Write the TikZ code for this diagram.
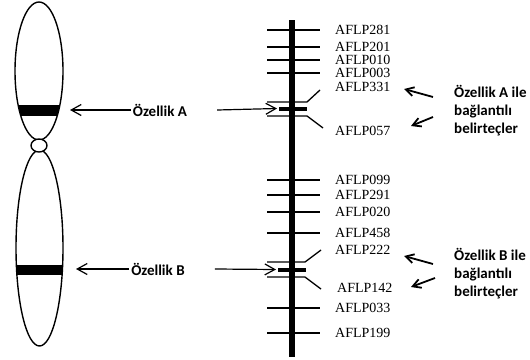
\documentclass[tikz,border=0pt]{standalone}
\usepackage{fontspec}
\setmainfont{Liberation Serif}
\newfontfamily\calibri{Carlito}
\usetikzlibrary{arrows.meta, positioning, calc}

\tikzstyle{marker} = [line width=1.3pt]
\tikzstyle{aflp} = [anchor=west, inner sep=0pt, font=\fontsize{14}{14}\selectfont]
\tikzstyle{feature} = [inner sep=2pt, font=\calibri\bfseries\fontsize{15}{18}\selectfont]
\tikzstyle{pointer} = [-{Straight Barb[length=10pt,width=11pt]}, line width=1.2pt]
\tikzstyle{notearrow} = [-{Straight Barb[length=8pt,width=9pt]}, line width=1.8pt]

\begin{document}
\begin{tikzpicture}[x=1pt, y=-1pt]
    \useasboundingbox (0,0) rectangle (530,359);

    % Chromosome: two arms and the centromere
    \draw[line width=1.4pt] (39,71) ellipse [x radius=24, y radius=69];
    \draw[line width=1.4pt] (39.5,248) ellipse [x radius=23.5, y radius=98];
    \begin{scope}
        \clip (39,71) ellipse [x radius=24, y radius=69];
        \fill (0,105) rectangle (80,116);
    \end{scope}
    \begin{scope}
        \clip (39.5,248) ellipse [x radius=23.5, y radius=98];
        \fill (0,265) rectangle (80,275);
    \end{scope}
    \draw[line width=1.4pt, fill=white] (39,145.5) ellipse [x radius=8, y radius=6.5];

    % Linkage map
    \coordinate (maptop) at (292,20);
    \coordinate (mapbottom) at (292,357);
    \draw[line width=6pt] (maptop) -- (mapbottom);

    \foreach \name/\y in {281/30, 201/47, 010/60, 003/73, 099/180, 291/195, 020/212, 458/233, 033/308, 199/333} {
        \draw[marker] (267,\y) -- (320,\y);
        \node[aflp] (m\name) at (335,\y) {AFLP\name};
    }

    % Markers flanking trait A
    \draw[marker] (267,102) -- (307,102) -- (320,90);
    \draw[marker] (267,116) -- (307,116) -- (323,128);
    \draw[line width=4pt] (279,108.5) -- (307,108.5);
    \node[aflp] (m331) at (335,87) {AFLP331};
    \node[aflp] (m057) at (335,131) {AFLP057};

    % Markers flanking trait B
    \draw[marker] (267,262) -- (305,262) -- (321,250);
    \draw[marker] (267,277) -- (305,277) -- (321,289);
    \draw[line width=4pt] (278,269.5) -- (306,269.5);
    \node[aflp] (m222) at (335,250) {AFLP222};
    \node[aflp] (m142) at (337,288) {AFLP142};

    % Trait labels
    \node[feature] (featA) at (160,110) {Özellik A};
    \coordinate (bandA) at (70,110);
    \coordinate (barA) at (277,108.5);
    \draw[pointer] (featA) -- (bandA);
    \draw[pointer] ([xshift=28pt]featA.east) -- (barA);

    \node[feature] (featB) at (158,269) {Özellik B};
    \coordinate (bandB) at (76,269);
    \coordinate (barB) at (276,269.5);
    \draw[pointer] (featB) -- (bandB);
    \draw[pointer] ([xshift=28pt]featB.east) -- (barB);

    % Linked marker notes
    \node[feature, align=left, anchor=west] (noteA) at (452,111) {Özellik A ile\\bağlantılı\\belirteçler};
    \coordinate (tipA1) at (404,89);
    \coordinate (tipA2) at (411,126);
    \draw[notearrow] ($(noteA.west)+(-19,-14)$) -- (tipA1);
    \draw[notearrow] ($(noteA.west)+(-19,6)$) -- (tipA2);

    \node[feature, align=left, anchor=west] (noteB) at (452,274) {Özellik B ile\\bağlantılı\\belirteçler};
    \coordinate (tipB1) at (404,256);
    \coordinate (tipB2) at (411,287);
    \draw[notearrow] ($(noteB.west)+(-19,-10)$) -- (tipB1);
    \draw[notearrow] ($(noteB.west)+(-17,4)$) -- (tipB2);
\end{tikzpicture}
\end{document}
